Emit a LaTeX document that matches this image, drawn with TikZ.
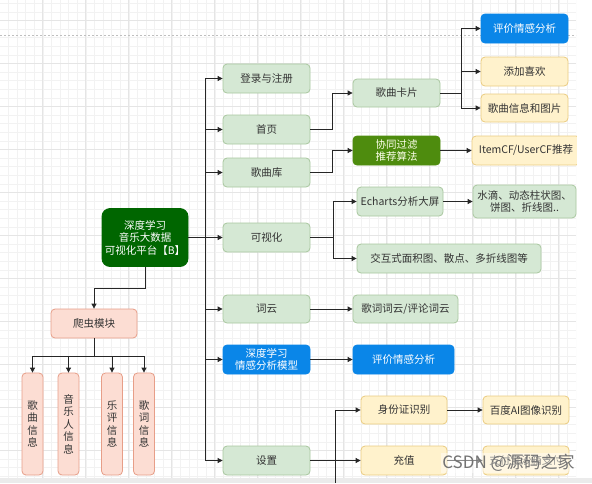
\documentclass[tikz,border=0pt]{standalone}
\usepackage{fontspec}
\setmainfont{Noto Sans CJK SC}
\usetikzlibrary{arrows.meta}
\definecolor{gfill}{HTML}{D5E8D4}
\definecolor{gline}{HTML}{A9C79F}
\definecolor{yfill}{HTML}{FFF2CC}
\definecolor{yline}{HTML}{EACB80}
\definecolor{rfill}{HTML}{FCDDD3}
\definecolor{rline}{HTML}{E79E88}
\definecolor{bfill}{HTML}{0A86E8}
\definecolor{dgreen}{HTML}{006600}
\definecolor{olive}{HTML}{4E8C0E}
\definecolor{txt}{HTML}{333333}
\tikzset{
  base/.style={rounded corners=4pt, inner sep=0pt, align=center,
    font=\fontsize{10.5}{12.5}\selectfont, text=txt, line width=0.8pt},
  gbox/.style={base, fill=gfill, draw=gline},
  ybox/.style={base, fill=yfill, draw=yline},
  rbox/.style={base, fill=rfill, draw=rline},
  bbox/.style={base, fill=bfill, draw=bfill, text=white},
  mbox/.style={base, fill=dgreen, draw=dgreen, text=white, rounded corners=8pt},
  obox/.style={base, fill=olive, draw=olive, text=green!8!yellow!8},
  arr/.style={-{Triangle[length=5pt,width=5pt]}, line width=0.8pt, draw=black!85},
  ln/.style={line width=0.8pt, draw=black!85},
}
\begin{document}
\begin{tikzpicture}[x=1pt, y=-1pt]
\useasboundingbox (0,0) rectangle (592,483);
\fill[white] (0,0) rectangle (592,483);
% grid
\begin{scope}
\clip (0,0) rectangle (576,478);
\foreach \i in {-5,...,70} \draw[black!5, line width=0.4pt] ({42.7+8.6*\i},0) -- ++(0,483);
\foreach \i in {-8,...,60} \draw[black!5, line width=0.4pt] (0,{63.3+8.6*\i}) -- ++(576,0);
\foreach \i in {-1,...,14} \draw[black!10, line width=0.5pt] ({42.7+43*\i},0) -- ++(0,483);
\foreach \i in {-2,...,11} \draw[black!10, line width=0.5pt] (0,{63.3+43*\i}) -- ++(576,0);
\end{scope}
\draw[black!25, dash pattern=on 2pt off 2pt, line width=0.6pt] (0,35) -- (576,35);
\fill[black!8] (0,478) rectangle (592,483);

% main
\node[mbox, minimum width=86pt, minimum height=58pt] (main) at (145,237.5) {深度学习\\音乐大数据\\可视化平台【B】};

% level 1
\node[gbox, minimum width=87pt, minimum height=29pt] (login) at (266.5,78.5) {登录与注册};
\node[gbox, minimum width=87pt, minimum height=29pt] (home) at (266.5,129.5) {首页};
\node[gbox, minimum width=87pt, minimum height=29pt] (lib) at (266.5,172.5) {歌曲库};
\node[gbox, minimum width=87pt, minimum height=29pt] (vis) at (266.5,237.5) {可视化};
\node[gbox, minimum width=87pt, minimum height=28pt] (cloud) at (266.5,309) {词云};
\node[bbox, minimum width=87pt, minimum height=29pt] (dl) at (266.5,359.5) {深度学习\\情感分析模型};
\node[gbox, minimum width=87pt, minimum height=29pt] (set) at (266.5,460.5) {设置};

\coordinate (t) at (205,237.5);
\foreach \n in {login,home,lib,vis,cloud,dl,set}
  \draw[arr] (main.east) -- (t) |- (\n.west);

% crawler
\node[rbox, minimum width=86pt, minimum height=29pt] (crawler) at (94,323.5) {爬虫模块};
\draw[arr] (main.south) -- ++(0,21.5) -| (crawler.north);
\node[rbox, minimum width=21pt, minimum height=102pt] (l1) at (32.5,424) {歌\\曲\\信\\息};
\node[rbox, minimum width=21pt, minimum height=102pt] (l2) at (68.5,424) {音\\乐\\人\\信\\息};
\node[rbox, minimum width=21pt, minimum height=102pt] (l3) at (112,424) {乐\\评\\信\\息};
\node[rbox, minimum width=21pt, minimum height=102pt] (l4) at (144,424) {歌\\词\\信\\息};
\foreach \n in {l1,l2,l3,l4}
  \draw[arr] (crawler.south) -- ++(0,18) -| (\n.north);

% home branch
\node[gbox, minimum width=87pt, minimum height=28pt] (card) at (396.5,93) {歌曲卡片};
\draw[arr] (home.east) -- ++(22,0) |- (card.west);
\node[bbox, minimum width=87pt, minimum height=29pt] (eval1) at (524.5,28.5) {评价情感分析};
\node[ybox, minimum width=87pt, minimum height=29pt] (like) at (524.5,71.5) {添加喜欢};
\node[ybox, minimum width=87pt, minimum height=28pt] (info) at (524.5,108) {歌曲信息和图片};
\foreach \n in {eval1,like,info}
  \draw[arr] (card.east) -- ++(21,0) |- (\n.west);

% library branch
\node[obox, minimum width=87pt, minimum height=29pt] (cf) at (396.5,150.5) {协同过滤\\推荐算法};
\draw[arr] (lib.east) -- ++(22,0) |- (cf.west);
\node[ybox, minimum width=108pt, minimum height=29pt] (itemcf) at (526,150.5) {ItemCF/UserCF推荐};
\draw[arr] (cf) -- (itemcf);

% visualisation branch
\node[gbox, minimum width=86pt, minimum height=29pt] (echarts) at (400,201.5) {Echarts分析大屏};
\node[gbox, minimum width=103pt, minimum height=33pt] (water) at (524.5,201.5) {水滴、动态柱状图、\\饼图、折线图..};
\node[gbox, minimum width=184pt, minimum height=29pt] (inter) at (449,258.5) {交互式面积图、散点、多折线图等};
\draw[arr] (vis.east) -- ++(23,0) |- (echarts.west);
\draw[arr] (vis.east) -- ++(23,0) |- (inter.west);
\draw[arr] (echarts) -- (water);

% word cloud, deep learning
\node[gbox, minimum width=105pt, minimum height=28pt] (lyric) at (405.5,309) {歌词词云/评论词云};
\draw[arr] (cloud) -- (lyric);
\node[bbox, minimum width=101pt, minimum height=29pt] (eval2) at (403.5,359.5) {评价情感分析};
\draw[arr] (dl) -- (eval2);

% settings branch
\node[ybox, minimum width=86pt, minimum height=28pt] (id) at (404,410) {身份证识别};
\node[ybox, minimum width=86pt, minimum height=28pt] (baidu) at (526,410) {百度AI图像识别};
\node[ybox, minimum width=86pt, minimum height=29pt] (charge) at (404,460.5) {充值};
\node[ybox, minimum width=86pt, minimum height=29pt] (pay) at (526,460.5) {支付宝沙箱支付};
\coordinate (vb) at (335,483);
\draw[arr] (vb) |- (id.west);
\draw[arr] (set) -- (charge);
\draw[arr] (id) -- (baidu);
\draw[arr] (charge) -- (pay);

% right edge of the screenshot
\fill[white] (577,0) rectangle (592,478);

% watermark
\node[font=\fontsize{17}{17}\selectfont, text=black!55, fill=white, fill opacity=0.45, text opacity=1, inner sep=1pt] (wm) at (508.5,463) {CSDN @源码之家};
\end{tikzpicture}
\end{document}
